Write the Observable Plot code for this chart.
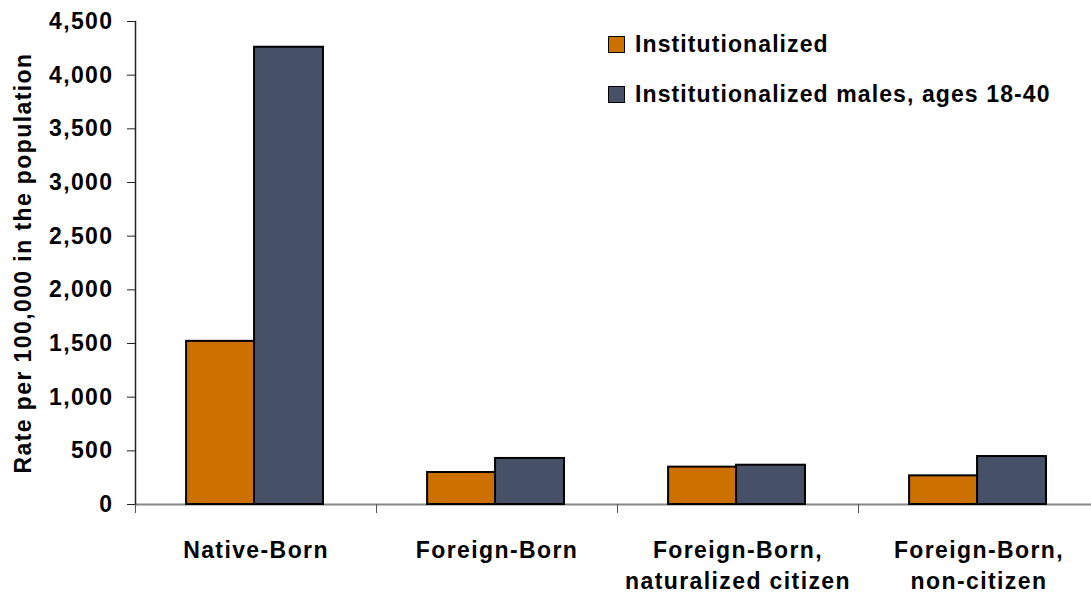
<!DOCTYPE html>
<html>
<head>
<meta charset="utf-8">
<script src="https://cdn.jsdelivr.net/npm/d3@7"></script>
<script src="https://cdn.jsdelivr.net/npm/@observablehq/plot@0.6"></script>
<style>
  body { margin: 0; background: #fff; }
  #wrap { position: relative; width: 1091px; height: 595px; font-family: "Liberation Sans", Arial, sans-serif; }
  #legend { position: absolute; left: 608px; top: 33px; }
  .row { position: absolute; left: 0; display: flex; align-items: center; white-space: nowrap;
         font-size: 23px; font-weight: bold; letter-spacing: 1.1px; line-height: 23px; color: #000; }
  .sw { width: 15px; height: 15px; border: 1px solid #000; margin-right: 10px; }
</style>
</head>
<body>
<div id="wrap"></div>
<script>
const categories = ["Native-Born", "Foreign-Born", "Foreign-Born,\nnaturalized citizen", "Foreign-Born,\nnon-citizen"];
const seriesNames = ["Institutionalized", "Institutionalized males, ages 18-40"];
const institutionalized = [1520, 298, 348, 267];
const males18to40 = [4260, 429, 366, 447];
const yTicks = [0, 500, 1000, 1500, 2000, 2500, 3000, 3500, 4000, 4500];
const colors = ["#CC7000", "#465066"];
const yLabel = "Rate per 100,000 in the population";

const W = 1091, H = 595, mL = 135, mR = -8, mT = 21, mB = 91;
const bw = (W - mL - mR) / categories.length;

const data0 = categories.map((c, i) => ({category: c, value: institutionalized[i]}));
const data1 = categories.map((c, i) => ({category: c, value: males18to40[i]}));

const chart = Plot.plot({
  width: W, height: H,
  marginLeft: mL, marginRight: mR, marginTop: mT, marginBottom: mB,
  style: {fontFamily: "'Liberation Sans', Arial, sans-serif", fontSize: "23px", fontWeight: "bold", letterSpacing: "1.4px", color: "#000", background: "#fff"},
  x: {domain: categories, padding: 0},
  y: {domain: [0, 4500]},
  marks: [
    Plot.ruleY([0], {stroke: "#888", strokeWidth: 2}),
    Plot.barY(data0, {x: "category", y: "value", fill: colors[0], stroke: "#000", strokeWidth: 2,
      insetLeft: bw * 0.212, insetRight: bw * 0.506}),
    Plot.barY(data1, {x: "category", y: "value", fill: colors[1], stroke: "#000", strokeWidth: 2,
      insetLeft: bw * 0.494, insetRight: bw * 0.22}),
    Plot.frame({anchor: "left", stroke: "#222", strokeWidth: 1.5}),
    Plot.axisY({ticks: yTicks, tickSize: 8, tickPadding: 14, tickFormat: d3.format(","), stroke: "#222",
      label: yLabel, labelAnchor: "center", labelOffset: 121, labelArrow: "none"}),
    Plot.axisX({tickSize: 9, dx: -bw / 2, tickFormat: () => "", stroke: "#555", label: null}),
    Plot.axisX({tickSize: 0, tickPadding: 31, lineHeight: 1.35, label: null})
  ]
});

const wrap = document.getElementById("wrap");
wrap.appendChild(chart);

const legend = document.createElement("div");
legend.id = "legend";
seriesNames.forEach((name, i) => {
  const row = document.createElement("div");
  row.className = "row";
  row.style.top = (i * 50) + "px";
  const sw = document.createElement("div");
  sw.className = "sw";
  sw.style.background = colors[i];
  const t = document.createElement("span");
  t.textContent = name;
  row.appendChild(sw);
  row.appendChild(t);
  legend.appendChild(row);
});
wrap.appendChild(legend);
</script>
</body>
</html>
